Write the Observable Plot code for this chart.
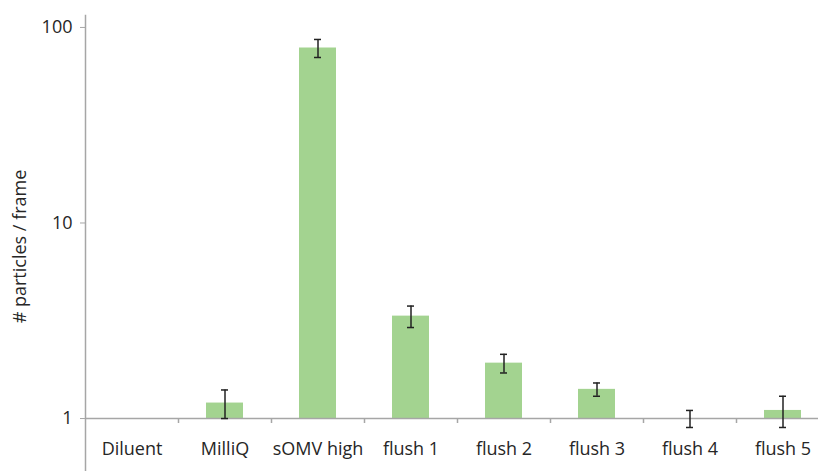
<!DOCTYPE html>
<html>
<head>
<meta charset="utf-8">
<script src="https://cdn.jsdelivr.net/npm/d3@7"></script>
<script src="https://cdn.jsdelivr.net/npm/@observablehq/plot@0.6"></script>
<style>
  html, body { margin: 0; padding: 0; background: #fff; }
  #chart svg { display: block; }
</style>
</head>
<body>
<div id="chart"></div>
<script>
const categories = ["Diluent", "MilliQ", "sOMV high", "flush 1", "flush 2", "flush 3", "flush 4", "flush 5"];
const values = [1, 1.2, 78.5, 3.34, 1.92, 1.41, 1, 1.1];
const errors = [0, 0.2, 8.3, 0.42, 0.21, 0.11, 0.1, 0.2];
const yTicks = [1, 10, 100];
const yLabel = "# particles / frame";

const data = categories.map((c, i) => ({cat: c, value: values[i], err: errors[i]}));
const withErr = data.filter(d => d.err > 0);

const font = "'Open Sans', 'Liberation Sans', sans-serif";
const axisColor = "#a6a6a6";
const textColor = "#262626";

const chart = Plot.plot({
  width: 818,
  height: 471,
  marginLeft: 85,
  marginRight: 0,
  marginTop: 15,
  marginBottom: 0,
  style: {fontFamily: font, background: "#fff"},
  x: {type: "band", domain: categories, range: [85, 829], paddingInner: 0.6, paddingOuter: 0.3, axis: null},
  y: {type: "log", domain: [0.536, 115.1], axis: null},
  marks: [
    Plot.barY(data, {x: "cat", y1: 1, y2: "value", fill: "#a3d390"}),
    Plot.ruleY([1], {stroke: axisColor, strokeWidth: 1.5}),
    Plot.ruleX(categories.slice(1), {x: d => d, y1: 1, y2: 0.943, dx: -46.5, stroke: axisColor, strokeWidth: 1.5}),
    Plot.frame({anchor: "left", stroke: axisColor, strokeWidth: 1.5}),
    Plot.axisY({ticks: yTicks, tickFormat: d => String(d), tickSize: 5, tickPadding: 8, stroke: axisColor, fill: textColor, fontSize: 18, label: null}),
    Plot.ruleX(withErr, {x: "cat", y1: d => d.value - d.err, y2: d => d.value + d.err, stroke: "#222", strokeWidth: 1.5}),
    Plot.tickY(withErr, {x: "cat", y: d => d.value - d.err, stroke: "#222", strokeWidth: 1.5, insetLeft: 15, insetRight: 15}),
    Plot.tickY(withErr, {x: "cat", y: d => d.value + d.err, stroke: "#222", strokeWidth: 1.5, insetLeft: 15, insetRight: 15}),
    Plot.text(categories, {x: d => d, y: 1, dy: 31, text: d => d, fill: textColor, fontSize: 18}),
    Plot.text([yLabel], {frameAnchor: "left", textAnchor: "middle", lineAnchor: "middle", text: d => d, rotate: -90, dx: -65, dy: 3, fill: textColor, fontSize: 18})
  ]
});
document.getElementById("chart").appendChild(chart);
</script>
</body>
</html>
